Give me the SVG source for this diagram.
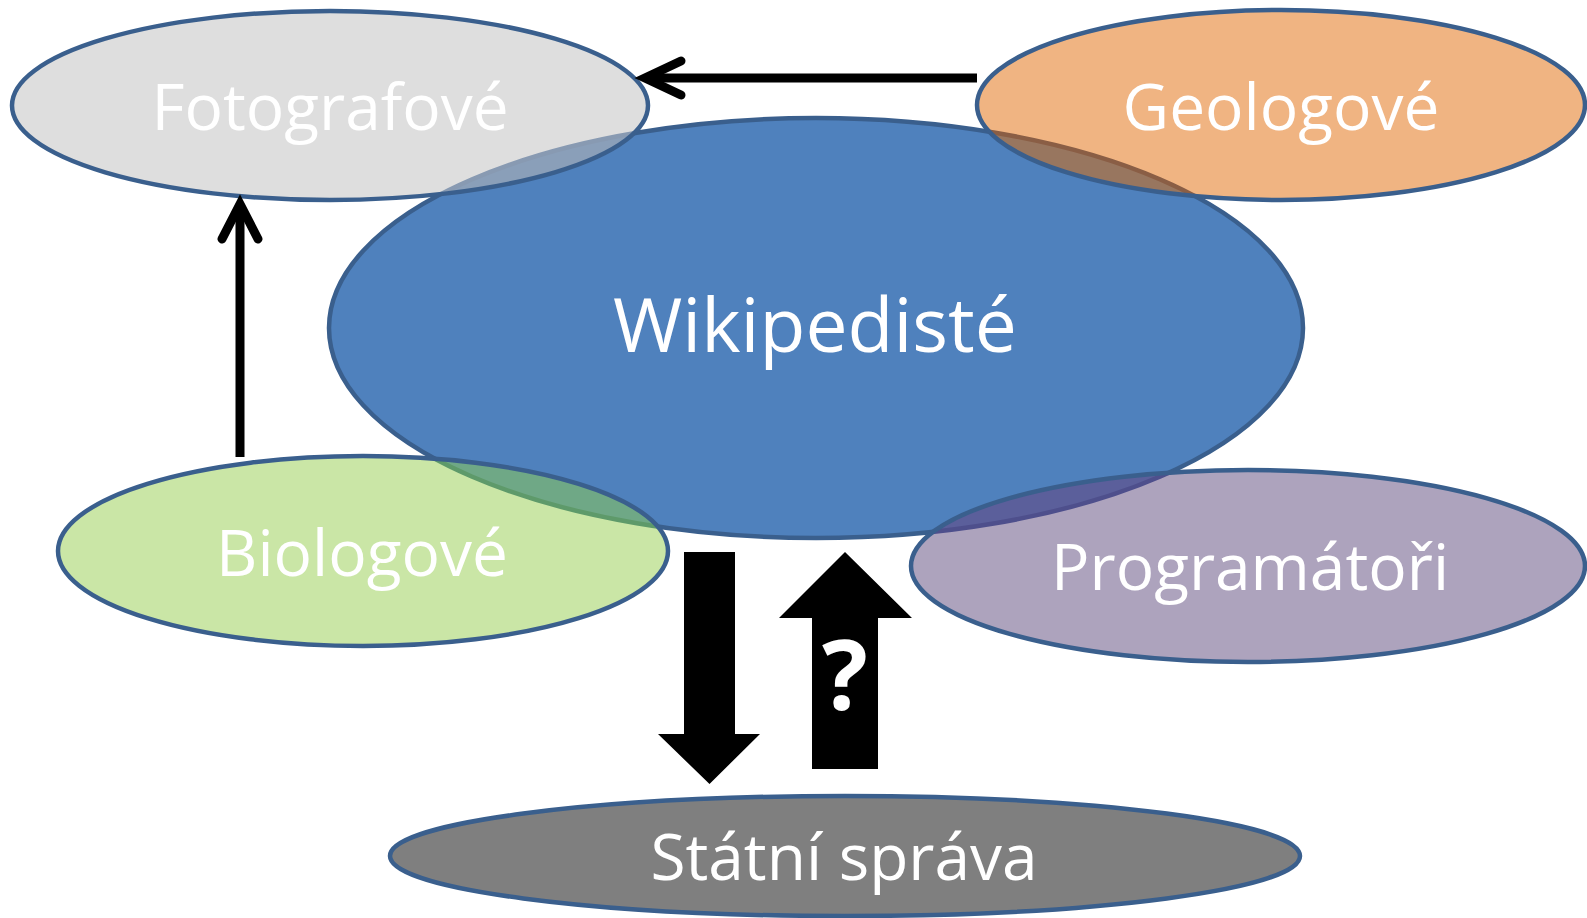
<svg xmlns="http://www.w3.org/2000/svg" width="1587" height="918" viewBox="0 0 1587 918">
<style>
.el{stroke:#3a5f8d;stroke-width:4.5}
.lbl{font-family:"Open Sans","Liberation Sans",sans-serif;fill:#ffffff;text-anchor:middle;font-size:64px}
.conn{stroke:#000;stroke-width:9;fill:none}
.head{stroke:#000;stroke-width:9;fill:none;stroke-linecap:round;stroke-linejoin:miter}
</style>
<defs>
<clipPath id="cFoto"><ellipse cx="330" cy="105.5" rx="318" ry="94.5"/></clipPath>
<clipPath id="cGeo"><ellipse cx="1281" cy="105" rx="304" ry="95"/></clipPath>
<clipPath id="cBio"><ellipse cx="363" cy="551" rx="305" ry="95"/></clipPath>
<clipPath id="cProg"><ellipse cx="1248" cy="566" rx="337" ry="96"/></clipPath>
</defs>
<rect width="1587" height="918" fill="#ffffff"/>

<g id="wikipediste">
<ellipse class="el" cx="816" cy="328" rx="487" ry="210" fill="#4f81bd"/>
<text class="lbl" x="815" y="352" style="font-size:75px">Wikipedisté</text>
</g>

<g id="fotografove">
<ellipse cx="330" cy="105.5" rx="318" ry="94.5" fill="#dedede"/>
<ellipse cx="816" cy="328" rx="487" ry="210" fill="#8a9fb9" stroke="#889ab2" stroke-width="4.5" clip-path="url(#cFoto)"/>
<ellipse class="el" cx="330" cy="105.5" rx="318" ry="94.5" fill="none"/>
<text class="lbl" x="330" y="130">Fotografové</text>
</g>

<g id="geologove">
<ellipse cx="1281" cy="105" rx="304" ry="95" fill="#f0b482"/>
<ellipse cx="816" cy="328" rx="487" ry="210" fill="#98765f" stroke="#8a5e45" stroke-width="4.5" clip-path="url(#cGeo)"/>
<ellipse class="el" cx="1281" cy="105" rx="304" ry="95" fill="none"/>
<text class="lbl" x="1281" y="130">Geologové</text>
</g>

<g id="biologove">
<ellipse cx="363" cy="551" rx="305" ry="95" fill="#cae6a6"/>
<ellipse cx="816" cy="328" rx="487" ry="210" fill="#6fa886" stroke="#5e9a6a" stroke-width="4.5" clip-path="url(#cBio)"/>
<ellipse class="el" cx="363" cy="551" rx="305" ry="95" fill="none"/>
<text class="lbl" x="362" y="576">Biologové</text>
</g>

<g id="programatori">
<ellipse cx="1248" cy="566" rx="337" ry="96" fill="#ada3bd"/>
<ellipse cx="816" cy="328" rx="487" ry="210" fill="#5b5f9b" stroke="#4e4f8c" stroke-width="4.5" clip-path="url(#cProg)"/>
<ellipse class="el" cx="1248" cy="566" rx="337" ry="96" fill="none"/>
<text class="lbl" x="1250" y="590">Programátoři</text>
</g>

<g id="statni-sprava">
<ellipse class="el" cx="845" cy="856" rx="455" ry="60" fill="#7f7f7f"/>
<text class="lbl" x="844" y="880">Státní správa</text>
</g>

<g id="connectors">
<line class="conn" x1="977" y1="78" x2="648" y2="78"/>
<polyline class="head" points="681,61 645,78 681,95"/>
<line class="conn" x1="240" y1="457" x2="240" y2="207"/>
<polyline class="head" points="222,239 240,204 258,239"/>
<polygon points="684,552 735,552 735,734 760,734 709.5,784 658,734 684,734" fill="#000"/>
<polygon points="812,769 878,769 878,618 912,618 845,552 779,618 812,618" fill="#000"/>
<text x="845" y="710" style="font-family:'Open Sans','Liberation Sans',sans-serif;font-weight:bold;font-size:96px;fill:#fff;text-anchor:middle">?</text>
</g>
</svg>
